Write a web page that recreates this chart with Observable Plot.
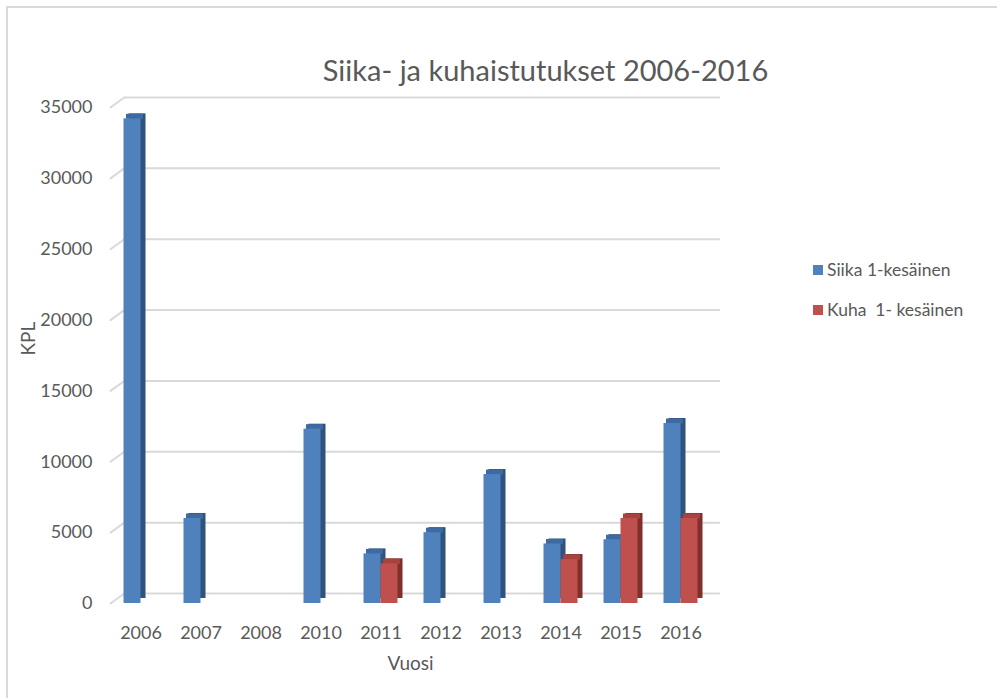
<!DOCTYPE html>
<html>
<head>
<meta charset="utf-8">
<script src="https://cdn.jsdelivr.net/npm/d3@7"></script>
<script src="https://cdn.jsdelivr.net/npm/@observablehq/plot@0.6"></script>
<style>
  html, body { margin: 0; padding: 0; background: #fff; }
  #wrap { position: relative; width: 997px; height: 698px; overflow: hidden; font-family: Lato, "Open Sans", sans-serif; color: #595959; }
  #frame { position: absolute; left: 6px; top: 6px; width: 1100px; height: 800px; border-left: 2px solid #d9d9d9; border-top: 2px solid #d9d9d9; }
  #chart { position: absolute; left: 0; top: 0; }
  #title { position: absolute; left: 0; width: 1091px; top: 52px; text-align: center; font-size: 29px; white-space: nowrap; }
  .leg { position: absolute; left: 813px; font-size: 17.5px; white-space: pre; display: flex; align-items: center; }
  .sw { display: inline-block; width: 10px; height: 10px; margin-right: 4px; }
</style>
</head>
<body>
<div id="wrap">
  <div id="frame"></div>
  <div id="chart"></div>
  <div id="title">Siika- ja kuhaistutukset 2006-2016</div>
  <div id="legend"></div>
</div>
<script>
const years = ["2006", "2007", "2008", "2010", "2011", "2012", "2013", "2014", "2015", "2016"];
const siika = [34200, 6000, null, 12300, 3500, 5000, 9100, 4200, 4500, 12700];
const kuha = [null, null, null, null, 2800, null, null, 3100, 6000, 6000];
const yTicks = [0, 5000, 10000, 15000, 20000, 25000, 30000, 35000];
const seriesNames = ["Siika 1-kesäinen", "Kuha  1- kesäinen"];
const colors = {
  siika: {front: "#4f81bd", top: "#3e6aa3", side: "#30527f"},
  kuha: {front: "#c0504d", top: "#a8423f", side: "#7f2f2c"}
};

const siikaData = years.map((y, i) => ({year: y, value: siika[i]})).filter(d => d.value != null);
const kuhaData = years.map((y, i) => ({year: y, value: kuha[i]})).filter(d => d.value != null);

const depth = 5;
const half = 8.5;
const lineShape = {draw(context, l) { context.moveTo(0, 0); context.lineTo(0, -l); }};

function bars3d(data, c, shift) {
  return [
    Plot.barY(data, {x: "year", y: "value", fill: c.side, dx: shift + depth, dy: -depth}),
    Plot.tickY(data, {x: "year", y: "value", stroke: c.top, strokeWidth: depth, dx: shift + depth / 2, dy: -depth / 2}),
    Plot.barY(data, {x: "year", y: "value", fill: c.front, dx: shift})
  ];
}

const chart = Plot.plot({
  width: 997,
  height: 698,
  marginLeft: 110,
  marginRight: 287,
  marginTop: 107,
  marginBottom: 95,
  style: {fontFamily: "Lato, 'Open Sans', sans-serif", fontSize: "18px", color: "#595959", background: "transparent"},
  x: {domain: years, type: "band", paddingInner: 0.7167, paddingOuter: 0.3583, align: 0.5, label: null},
  y: {domain: [0, 35000], label: null},
  marks: [
    Plot.ruleY(yTicks, {dx: 14, dy: -10, stroke: "#d9d9d9", strokeWidth: 2, insetRight: 4}),
    Plot.vector(yTicks, {y: d => d, frameAnchor: "left", length: 17, rotate: 54, anchor: "start", stroke: "#d9d9d9", strokeWidth: 2, shape: lineShape}),
    ...bars3d(siikaData, colors.siika, -half),
    ...bars3d(kuhaData, colors.kuha, half),
    Plot.axisX({tickSize: 0, tickPadding: 23, label: null}),
    Plot.axisY({ticks: yTicks, tickSize: 0, tickPadding: 18, label: null, tickFormat: d => String(d)}),
    Plot.text(["KPL"], {frameAnchor: "left", rotate: -90, dx: -82, fontSize: 19, fill: "#595959"}),
    Plot.text(["Vuosi"], {frameAnchor: "bottom", dy: 66, fontSize: 19, fill: "#595959"})
  ]
});
document.getElementById("chart").appendChild(chart);

const legend = document.getElementById("legend");
[[seriesNames[0], colors.siika.front, 259], [seriesNames[1], colors.kuha.front, 299]].forEach(([name, col, top]) => {
  const row = document.createElement("div");
  row.className = "leg";
  row.style.top = top + "px";
  const sw = document.createElement("span");
  sw.className = "sw";
  sw.style.background = col;
  row.appendChild(sw);
  row.appendChild(document.createTextNode(name));
  legend.appendChild(row);
});
</script>
</body>
</html>
